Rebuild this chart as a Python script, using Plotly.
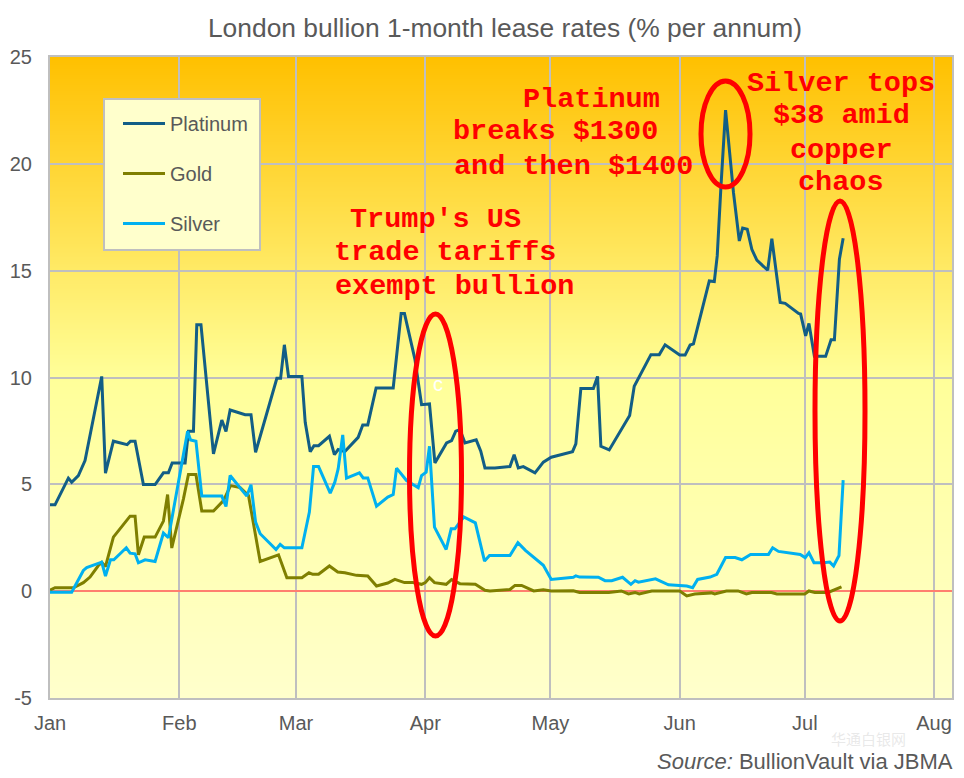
import pandas as pd
import plotly.graph_objects as go

# Days since 1 January 2025, with rate values (% per annum)
platinum_days = [0, 1.2, 4.4, 5.2, 6.8, 8.4, 12.4, 13.3, 15.2, 18.5, 19.3, 20.4, 22.4, 25.2, 27.2, 28.4, 29.3, 32.4, 33.2, 34.4, 35.2, 36.2, 39.2, 41.2, 42.2, 43.2, 46.8, 48.2, 49.3, 54.4, 55.3, 56.2, 57.2, 60.4, 61.2, 62.4, 63.3, 64.4, 67, 68.2, 69.1, 70.7, 73.9, 75, 76.2, 78.2, 82.3, 84.2, 85, 87.5, 89.1, 91, 92.3, 95.1, 96.3, 97.3, 98.3, 99.5, 102.2, 103.3, 104.3, 106.7, 110.3, 111.3, 112.3, 113.5, 116.3, 118.3, 120.2, 125.3, 126.1, 127.3, 130.3, 131.3, 132.1, 134.1, 139, 140.1, 144.1, 146.1, 147.5, 151, 152.3, 153.5, 154.3, 158.1, 159.3, 160, 160.9, 162, 163.9, 165.3, 166.1, 167.2, 168.3, 169.5, 172.1, 173.1, 175.1, 176.3, 179.5, 180, 181.2, 182, 183.3, 186, 187.3, 188.1, 189.3, 190.2]
platinum_vals = [4.04, 4.04, 5.29, 5.1, 5.41, 6.11, 10.05, 5.52, 7.02, 6.86, 7.02, 7.02, 4.99, 4.99, 5.54, 5.54, 6.0, 6.0, 7.48, 7.48, 12.47, 12.47, 6.43, 8.01, 7.47, 8.48, 8.26, 8.26, 6.5, 9.96, 9.96, 11.53, 10.05, 10.05, 7.9, 6.53, 6.81, 6.81, 7.25, 6.39, 6.63, 6.53, 7.2, 7.78, 7.78, 9.51, 9.51, 13.0, 13.0, 10.86, 8.73, 8.76, 6.0, 6.94, 7.05, 7.49, 7.56, 6.94, 7.08, 6.55, 5.77, 5.77, 5.83, 6.39, 5.77, 5.83, 5.54, 6.04, 6.27, 6.53, 6.89, 9.49, 9.49, 10.05, 6.78, 6.61, 8.22, 9.59, 11.07, 11.07, 11.53, 11.05, 11.05, 11.52, 11.57, 14.52, 14.49, 15.69, 18.96, 22.51, 18.65, 16.39, 16.99, 16.94, 16.0, 15.49, 15.02, 16.5, 13.51, 13.47, 13.0, 12.97, 11.95, 12.53, 10.99, 10.99, 11.77, 11.77, 15.54, 16.52]

gold_days = [0, 1.2, 5.6, 8, 9.6, 11.6, 12.4, 13.3, 15.2, 19.2, 20.4, 21.2, 22.6, 25.2, 27.2, 28.2, 29.2, 32, 33.2, 35, 36.4, 39.2, 41.6, 43.3, 45.6, 47.6, 50.4, 54.8, 56.8, 60.4, 62.1, 63, 64.4, 67, 69, 70.7, 73.5, 76.2, 78.3, 81, 82.7, 85, 87, 89.1, 90, 91, 92.2, 95, 96.3, 98.3, 102, 104.3, 105.5, 110.3, 111.5, 113.1, 116, 118.3, 120.2, 125.5, 127, 134, 137, 138.7, 140.3, 141.3, 144.3, 151, 152.7, 154.6, 158.6, 159.4, 162.2, 165, 167, 168.3, 173, 174.3, 181, 182, 183.4, 186.6, 189.8]
gold_vals = [0.05, 0.16, 0.16, 0.4, 0.66, 1.2, 1.35, 1.15, 2.53, 3.51, 3.51, 1.7, 2.53, 2.53, 3.28, 4.52, 2.02, 4.32, 5.46, 5.46, 3.75, 3.75, 4.24, 4.94, 4.85, 4.48, 1.39, 1.7, 0.63, 0.63, 0.86, 0.79, 0.79, 1.18, 0.9, 0.86, 0.74, 0.71, 0.24, 0.38, 0.55, 0.4, 0.4, 0.32, 0.4, 0.63, 0.4, 0.32, 0.54, 0.35, 0.32, 0.04, 0.01, 0.08, 0.27, 0.27, 0.01, 0.06, 0.01, 0.02, -0.06, -0.06, 0.01, -0.13, -0.06, -0.13, 0.01, 0.01, -0.22, -0.13, -0.08, -0.13, 0.01, 0.01, -0.13, -0.06, -0.06, -0.13, -0.13, 0.01, -0.06, -0.06, 0.2]

silver_days = [0, 5.2, 8, 8.8, 12.4, 13.3, 14.5, 15.3, 18.3, 19.2, 20.4, 21.2, 22.8, 25.2, 27.2, 28.4, 33, 33.7, 35, 36.4, 41.2, 42.2, 43.2, 47.2, 48.2, 49.3, 50.4, 54.2, 55.2, 56.2, 60.4, 62.2, 63.2, 64.4, 67.2, 68.3, 69.1, 70.2, 71.1, 74.2, 75.1, 76.2, 78.3, 81, 82.3, 83.1, 85.5, 88.3, 89.1, 90.2, 91, 92.2, 95, 96.2, 97.1, 99.2, 102, 104.2, 105.4, 110.3, 112.2, 114, 118.3, 120.2, 125.5, 126.1, 127, 131.5, 133.1, 134.7, 137.3, 139.3, 140.3, 141.1, 145.2, 148.3, 152.7, 154.1, 155.3, 158.3, 159.9, 162, 164.3, 165.9, 168, 172.3, 173.3, 174.7, 179.9, 181.1, 182, 183.2, 185.5, 187, 187.9, 189.2, 190.2]
silver_vals = [-0.05, -0.05, 0.97, 1.1, 1.36, 0.71, 1.47, 1.47, 2.03, 1.78, 1.75, 1.33, 1.47, 1.39, 2.72, 2.5, 7.48, 7.08, 7.02, 4.45, 4.45, 3.96, 5.41, 4.45, 4.98, 3.23, 2.69, 1.95, 2.19, 2.03, 2.03, 3.7, 5.83, 5.83, 4.59, 5.1, 5.72, 7.31, 5.29, 5.54, 5.3, 5.3, 3.98, 4.4, 4.52, 5.76, 5.18, 4.84, 5.41, 5.57, 6.78, 3.0, 1.95, 2.92, 2.92, 3.47, 3.2, 1.41, 1.67, 1.67, 2.27, 1.91, 1.21, 0.55, 0.65, 0.72, 0.66, 0.65, 0.49, 0.49, 0.65, 0.32, 0.49, 0.42, 0.58, 0.3, 0.24, 0.16, 0.55, 0.66, 0.79, 1.57, 1.57, 1.47, 1.72, 1.72, 2.03, 1.86, 1.72, 1.57, 1.8, 1.33, 1.33, 1.36, 1.18, 1.67, 5.2]

y_ticks = [-5, 0, 5, 10, 15, 20, 25]
y_tick_labels = ["-5", "0", "5", "10", "15", "20", "25"]

FONT = "Liberation Sans, Arial, sans-serif"
MONO = "Liberation Mono, Courier New, monospace"
GREY = "#595959"
GRID = "#BFBFBF"
PAGE = 8  # the page's own body margin
W, H = 964 - PAGE, 778 - PAGE
L, R, T, B = 50, 952, 57, 698  # plot edges in window pixels


def dates(days):
    return pd.Timestamp("2025-01-01") + pd.to_timedelta(days, unit="D")


def px(x):
    return (x - L) / (R - L)


def py(y):
    return (B - y) / (B - T)


def band_colour(t):
    if t < 0.5:
        f = t / 0.5
        g, b = 192 + (255 - 192) * f, 153 * f
    else:
        f = (t - 0.5) / 0.5
        g, b = 255, 153 + (204 - 153) * f
    return f"rgb(255,{round(g)},{round(b)})"


fig = go.Figure()
for name, d, v, colour in [
    ("Platinum", platinum_days, platinum_vals, "#125E86"),
    ("Gold", gold_days, gold_vals, "#7F7F00"),
    ("Silver", silver_days, silver_vals, "#00B0F0"),
]:
    fig.add_trace(go.Scatter(x=dates(d), y=v, name=name, mode="lines", legendgroup=name,
                             line=dict(color=colour, width=3)))

# Vertical gradient behind the grid, painted from the top down
shapes = []
n = 320
for i in range(n):
    shapes.append(dict(type="rect", xref="paper", yref="paper", layer="below",
                       x0=0, x1=1, y0=0, y1=1 - i / n, line_width=0,
                       fillcolor=band_colour((i + 0.5) / n)))

# Legend panel
shapes.append(dict(type="rect", xref="paper", yref="paper", layer="above",
                   x0=px(104), x1=px(260), y0=py(250), y1=py(99),
                   fillcolor="#FFFFCC", line=dict(color=GRID, width=2)))

# Hand-drawn red ellipses
for x0, x1, y0, y1 in [(409.5, 461.5, 314, 636), (701, 750, 81, 187), (815, 865, 201, 621)]:
    shapes.append(dict(type="circle", xref="paper", yref="paper", layer="above",
                       x0=px(x0), x1=px(x1), y0=py(y1), y1=py(y0),
                       line=dict(color="#FF0000", width=5)))

annotations = []
for text, cx, cy in [
    ("Trump's US", 435, 219), ("trade tariffs", 445, 252), ("exempt bullion", 454, 286),
    ("Platinum", 591, 99), ("breaks $1300", 555, 132), ("and then $1400", 573, 166),
    ("Silver tops", 841, 83), ("$38 amid", 841, 116), ("copper", 841, 150), ("chaos", 841, 182),
]:
    annotations.append(dict(text=f"<b>{text}</b>", xref="paper", yref="paper", x=px(cx), y=py(cy),
                            xanchor="center", yanchor="middle", showarrow=False,
                            font=dict(family=MONO, size=28.5, color="#FF0000")))
annotations.append(dict(text="c", xref="paper", yref="paper", x=px(438), y=py(384), showarrow=False,
                        xanchor="center", yanchor="middle",
                        font=dict(family=FONT, size=20, color="#FFFFFF")))
annotations.append(dict(text="<i>Source:</i> BullionVault via JBMA", xref="paper", yref="paper",
                        x=px(955), y=py(761), xanchor="right", yanchor="middle", showarrow=False,
                        font=dict(family=FONT, size=22, color=GREY)))
annotations.append(dict(text="华通白银网", xref="paper", yref="paper", x=px(868), y=py(738),
                        xanchor="center", yanchor="middle", showarrow=False,
                        font=dict(family="Noto Sans CJK SC", size=15, color="rgba(205,205,205,0.45)")))

fig.update_layout(
    width=W, height=H, autosize=False,
    margin=dict(l=L - PAGE, r=W - (R - PAGE), t=T - PAGE, b=H - (B - PAGE), pad=0),
    paper_bgcolor="white", plot_bgcolor="#FFFFCC",
    title=dict(text="London bullion 1-month lease rates (% per annum)", x=(505 - PAGE) / W, xanchor="center",
               y=1 - (28 - PAGE) / H, yanchor="middle", font=dict(family=FONT, size=26.4, color=GREY)),
    font=dict(family=FONT, size=20, color=GREY),
    xaxis=dict(type="date", range=[dates(0), dates(216.3)], tick0="2025-01-01", dtick="M1",
               tickformat="%b", showgrid=True, gridcolor=GRID, gridwidth=2, showline=True,
               linecolor=GRID, linewidth=2, mirror=True, ticks="", ticklabelstandoff=6,
               automargin=False, tickfont=dict(family=FONT, size=20, color=GREY)),
    yaxis=dict(range=[-5, 25], tickmode="array", tickvals=y_ticks, ticktext=y_tick_labels,
               showgrid=True, gridcolor=GRID, gridwidth=2, showline=True,
               linecolor=GRID, linewidth=2, mirror=True, ticks="", ticklabelstandoff=12,
               automargin=False, zeroline=True, zerolinecolor="#FF7F6F", zerolinewidth=2,
               tickfont=dict(family=FONT, size=20, color=GREY)),
    legend=dict(x=px(118), y=py(104), xanchor="left", yanchor="top", bgcolor="rgba(0,0,0,0)",
                borderwidth=0, tracegroupgap=21,
                font=dict(family=FONT, size=20, color=GREY), itemwidth=42),
    shapes=shapes, annotations=annotations,
)

fig.write_html("out.html")
